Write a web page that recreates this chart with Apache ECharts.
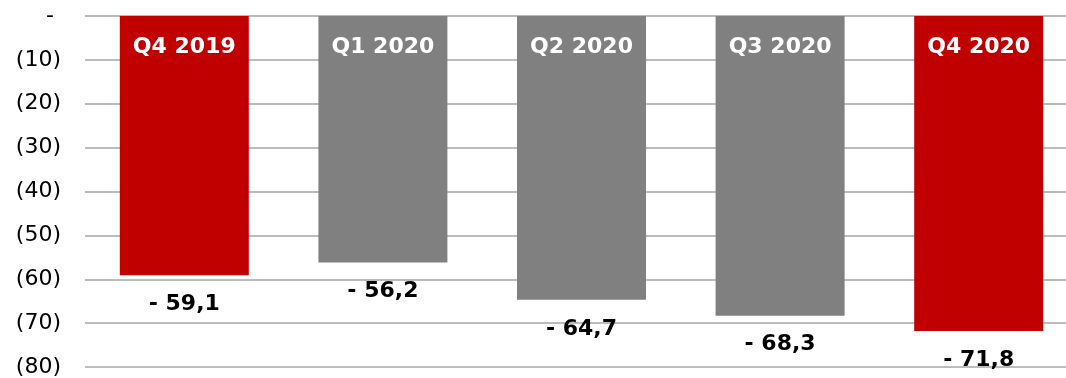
<!DOCTYPE html>
<html>
<head>
<meta charset="utf-8">
<script src="https://cdn.jsdelivr.net/npm/echarts@6/dist/echarts.min.js"></script>
<style>
html,body{margin:0;padding:0;background:#fff;overflow:hidden;width:1066px;height:378px;}
#chart{width:1078px;height:378px;}
</style>
</head>
<body>
<div id="chart"></div>
<script>
const categories = ['Q4 2019', 'Q1 2020', 'Q2 2020', 'Q3 2020', 'Q4 2020'];
const values = [-59.1, -56.2, -64.7, -68.3, -71.8];
const yTickValues = [0, -10, -20, -30, -40, -50, -60, -70, -80];
const yTickLabels = ['- ', '(10)', '(20)', '(30)', '(40)', '(50)', '(60)', '(70)', '(80)'];
const barColors = ['#C00000', '#808080', '#808080', '#808080', '#C00000'];

const FONT = '"DejaVu Sans", sans-serif';
const chart = echarts.init(document.getElementById('chart'));
chart.setOption({
  animation: false,
  grid: { left: 85, right: 0, top: 16, bottom: 11, containLabel: false },
  xAxis: {
    type: 'category', data: categories,
    axisLine: { show: false }, axisTick: { show: false }, axisLabel: { show: false }
  },
  yAxis: {
    type: 'value', min: -80, max: 0, interval: 10,
    axisLine: { show: false }, axisTick: { show: false },
    splitLine: { lineStyle: { color: '#a6a6a6', width: 1.5 } },
    axisLabel: {
      margin: 24, color: '#000', fontSize: 22, fontFamily: FONT,
      formatter: v => { const i = yTickValues.indexOf(Math.round(v)); return i >= 0 ? yTickLabels[i] : ''; }
    }
  },
  series: [
    {
      type: 'bar', barWidth: 129, silent: true,
      data: values.map((v, i) => ({ value: v, itemStyle: { color: barColors[i] } })),
      label: {
        show: true, position: 'bottom', distance: 18,
        color: '#000', fontSize: 22, fontWeight: 'bold', fontFamily: FONT,
        formatter: p => '- ' + Math.abs(p.value).toFixed(1).replace('.', ',')
      }
    },
    {
      type: 'bar', barWidth: 129, barGap: '-100%', silent: true,
      data: values.map(v => ({ value: v, itemStyle: { color: 'rgba(0,0,0,0)' } })),
      label: {
        show: true, position: 'insideTop', distance: 20,
        color: '#fff', fontSize: 22, fontWeight: 'bold', fontFamily: FONT,
        formatter: p => p.name
      }
    }
  ]
});
</script>
</body>
</html>
